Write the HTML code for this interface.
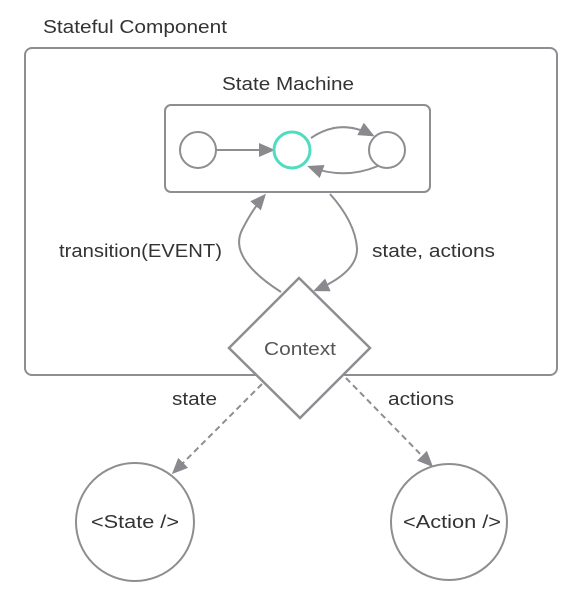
<!DOCTYPE html>
<html><head><style>
body{margin:0;background:#fff;}
svg{display:block;font-family:"Liberation Sans",sans-serif;}
</style></head><body>
<svg width="581" height="601" viewBox="0 0 581 601">
<defs>
<marker id="a" markerWidth="16" markerHeight="14" refX="13" refY="7" orient="auto" markerUnits="userSpaceOnUse">
<path d="M0,0 L16,7 L0,14 z" fill="#8a8a8e"/></marker>
</defs>
<g fill="none" stroke="#8e8e92" stroke-width="2">
<rect x="25" y="48" width="532" height="327" rx="7" fill="#fff"/>
<rect x="165" y="105" width="265" height="87" rx="6"/>
<circle cx="198" cy="150" r="18"/>
<circle cx="387" cy="150" r="18"/>
<line x1="216" y1="150" x2="272" y2="150" marker-end="url(#a)"/>
<path d="M311,138 Q340,118 372,135" marker-end="url(#a)"/>
<path d="M378,166 Q345,180 310,167" marker-end="url(#a)"/>
<path d="M281,292 Q228,258 242,230 Q252,210 264,196" marker-end="url(#a)"/>
<path d="M330,194 Q355,222 357,248 Q358,272 316,290" marker-end="url(#a)"/>
<polygon points="299,278 370,348 300,418 229,348" fill="#fff" stroke-width="2.5"/>
<line x1="262" y1="384" x2="174" y2="472" stroke-dasharray="6,4" marker-end="url(#a)"/>
<line x1="346" y1="378" x2="431" y2="465" stroke-dasharray="6,4" marker-end="url(#a)"/>
<circle cx="135" cy="522" r="59"/>
<circle cx="449" cy="522" r="58"/>
</g>
<circle cx="292" cy="150" r="18" fill="none" stroke="#4fdcc0" stroke-width="3"/>
<g fill="#333" font-size="18">
<text x="43" y="33" textLength="184" lengthAdjust="spacingAndGlyphs">Stateful Component</text>
<text x="222" y="90" textLength="132" lengthAdjust="spacingAndGlyphs">State Machine</text>
<text x="59" y="257" textLength="163" lengthAdjust="spacingAndGlyphs">transition(EVENT)</text>
<text x="372" y="257" textLength="123" lengthAdjust="spacingAndGlyphs">state, actions</text>
<text x="172" y="405" textLength="45" lengthAdjust="spacingAndGlyphs">state</text>
<text x="388" y="405" textLength="66" lengthAdjust="spacingAndGlyphs">actions</text>
<text x="91" y="528" textLength="88" lengthAdjust="spacingAndGlyphs">&lt;State /&gt;</text>
<text x="403" y="528" textLength="98" lengthAdjust="spacingAndGlyphs">&lt;Action /&gt;</text>
</g>
<text x="264" y="355" font-size="18" fill="#555" textLength="72" lengthAdjust="spacingAndGlyphs">Context</text>
</svg>
</body></html>
